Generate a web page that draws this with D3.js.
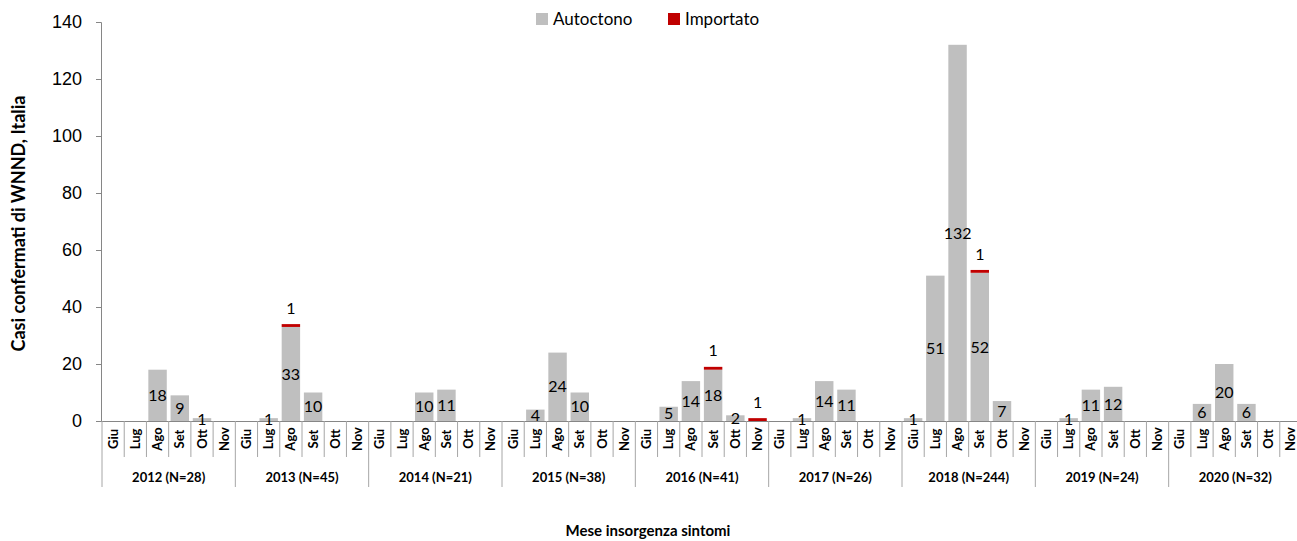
<!DOCTYPE html>
<html>
<head>
<meta charset="utf-8">
<script src="https://cdn.jsdelivr.net/npm/d3@7"></script>
<style>
  body { margin: 0; background: #fff; }
  svg { font-family: Lato, "Open Sans", sans-serif; }
</style>
</head>
<body>
<div id="chart"></div>
<script>
// data
var years = ["2012 (N=28)", "2013 (N=45)", "2014 (N=21)", "2015 (N=38)", "2016 (N=41)",
  "2017 (N=26)", "2018 (N=244)", "2019 (N=24)", "2020 (N=32)"];
var months = ["Giu", "Lug", "Ago", "Set", "Ott", "Nov"];
// one row per year, one value per month
var autoctono = [
  [0, 0, 18, 9, 1, 0],
  [0, 1, 33, 10, 0, 0],
  [0, 0, 10, 11, 0, 0],
  [0, 4, 24, 10, 0, 0],
  [0, 5, 14, 18, 2, 0],
  [0, 1, 14, 11, 0, 0],
  [1, 51, 132, 52, 7, 0],
  [0, 1, 11, 12, 0, 0],
  [0, 6, 20, 6, 0, 0]
];
var importato = [
  [0, 0, 0, 0, 0, 0],
  [0, 0, 1, 0, 0, 0],
  [0, 0, 0, 0, 0, 0],
  [0, 0, 0, 0, 0, 0],
  [0, 0, 0, 1, 0, 1],
  [0, 0, 0, 0, 0, 0],
  [0, 0, 0, 1, 0, 0],
  [0, 0, 0, 0, 0, 0],
  [0, 0, 0, 0, 0, 0]
];
var yTicks = [0, 20, 40, 60, 80, 100, 120, 140];

var W = 1297, H = 541;
var plotLeft = 102, plotRight = 1302, plotTop = 22, plotBottom = 421;

// flatten into categories
var rows = [];
years.forEach(function(y, yi) {
  months.forEach(function(m, mi) {
    rows.push({ key: yi + "-" + mi, year: y, yi: yi, month: m, a: autoctono[yi][mi], imp: importato[yi][mi] });
  });
});

var svg = d3.select("#chart").append("svg")
  .attr("width", W).attr("height", H);

var x = d3.scaleBand()
  .domain(rows.map(function(d) { return d.key; }))
  .range([plotLeft, plotRight])
  .paddingInner(0.17)
  .paddingOuter(0.085);

var y = d3.scaleLinear().domain([0, 140]).range([plotBottom, plotTop]);

var step = (plotRight - plotLeft) / rows.length;

// y axis
var yAxis = svg.append("g")
  .attr("transform", "translate(" + (plotLeft - 1) + ",0)")
  .call(d3.axisLeft(y).tickValues(yTicks).tickSize(5).tickPadding(14));
yAxis.select(".domain").attr("stroke", "#868686");
yAxis.selectAll(".tick line").attr("stroke", "#868686");
yAxis.selectAll(".tick text").attr("font-size", 18).attr("fill", "#000");

// bars
svg.append("g").selectAll("rect")
  .data(rows.filter(function(d) { return d.a > 0; }))
  .enter().append("rect")
  .attr("x", function(d) { return x(d.key); })
  .attr("width", x.bandwidth())
  .attr("y", function(d) { return y(d.a); })
  .attr("height", function(d) { return y(0) - y(d.a); })
  .attr("fill", "#bfbfbf");

svg.append("g").selectAll("rect")
  .data(rows.filter(function(d) { return d.imp > 0; }))
  .enter().append("rect")
  .attr("x", function(d) { return x(d.key); })
  .attr("width", x.bandwidth())
  .attr("y", function(d) { return y(d.a + d.imp); })
  .attr("height", function(d) { return y(d.a) - y(d.a + d.imp); })
  .attr("fill", "#c00000");

// category axis line + separators
svg.append("line")
  .attr("x1", plotLeft - 6).attr("x2", plotRight)
  .attr("y1", plotBottom + 0.5).attr("y2", plotBottom + 0.5)
  .attr("stroke", "#868686");

var sep = d3.range(rows.length + 1);
svg.append("g").selectAll("line")
  .data(sep)
  .enter().append("line")
  .attr("x1", function(i) { return plotLeft + i * step; })
  .attr("x2", function(i) { return plotLeft + i * step; })
  .attr("y1", plotBottom)
  .attr("y2", function(i) { return i % 6 == 0 ? 487 : 457; })
  .attr("stroke", "#a6a6a6");

// data labels
svg.append("g").selectAll("text")
  .data(rows.filter(function(d) { return d.a > 0; }))
  .enter().append("text")
  .attr("x", function(d) { return x(d.key) + x.bandwidth() / 2; })
  .attr("y", function(d) { return y(d.a / 2); })
  .attr("dy", "0.35em")
  .attr("text-anchor", "middle")
  .attr("font-size", 16)
  .text(function(d) { return d.a; });

svg.append("g").selectAll("text")
  .data(rows.filter(function(d) { return d.imp > 0; }))
  .enter().append("text")
  .attr("x", function(d) { return x(d.key) + x.bandwidth() / 2; })
  .attr("y", function(d) { return y(d.a + d.imp) - 16; })
  .attr("dy", "0.35em")
  .attr("text-anchor", "middle")
  .attr("font-size", 16)
  .text(function(d) { return d.imp; });

// month labels
svg.append("g").selectAll("text")
  .data(rows)
  .enter().append("text")
  .attr("transform", function(d) {
    return "translate(" + (x(d.key) + x.bandwidth() / 2) + ",439) rotate(-90)";
  })
  .attr("text-anchor", "middle")
  .attr("dy", "0.35em")
  .attr("font-size", 13)
  .attr("font-weight", "bold")
  .text(function(d) { return d.month; });

// year labels
svg.append("g").selectAll("text")
  .data(years)
  .enter().append("text")
  .attr("x", function(d, i) { return plotLeft + (i * 6 + 3) * step; })
  .attr("y", 482)
  .attr("text-anchor", "middle")
  .attr("font-size", 13)
  .attr("font-weight", "bold")
  .text(function(d) { return d; });

// axis titles
svg.append("text")
  .attr("transform", "translate(25," + ((plotTop + plotBottom) / 2 + 2) + ") rotate(-90)")
  .attr("text-anchor", "middle")
  .attr("font-size", 18)
  .attr("font-weight", "bold")
  .text("Casi confermati di WNND, Italia");

svg.append("text")
  .attr("x", 648).attr("y", 536)
  .attr("text-anchor", "middle")
  .attr("font-size", 15)
  .attr("font-weight", "bold")
  .text("Mese insorgenza sintomi");

// legend
var legend = [{ name: "Autoctono", color: "#bfbfbf", x: 536 }, { name: "Importato", color: "#c00000", x: 668 }];
var lg = svg.append("g").selectAll("g")
  .data(legend)
  .enter().append("g")
  .attr("transform", function(d) { return "translate(" + d.x + ",13)"; });
lg.append("rect").attr("width", 12).attr("height", 12).attr("fill", function(d) { return d.color; });
lg.append("text").attr("x", 17).attr("y", 12).attr("font-size", 17).text(function(d) { return d.name; });
</script>
</body>
</html>
